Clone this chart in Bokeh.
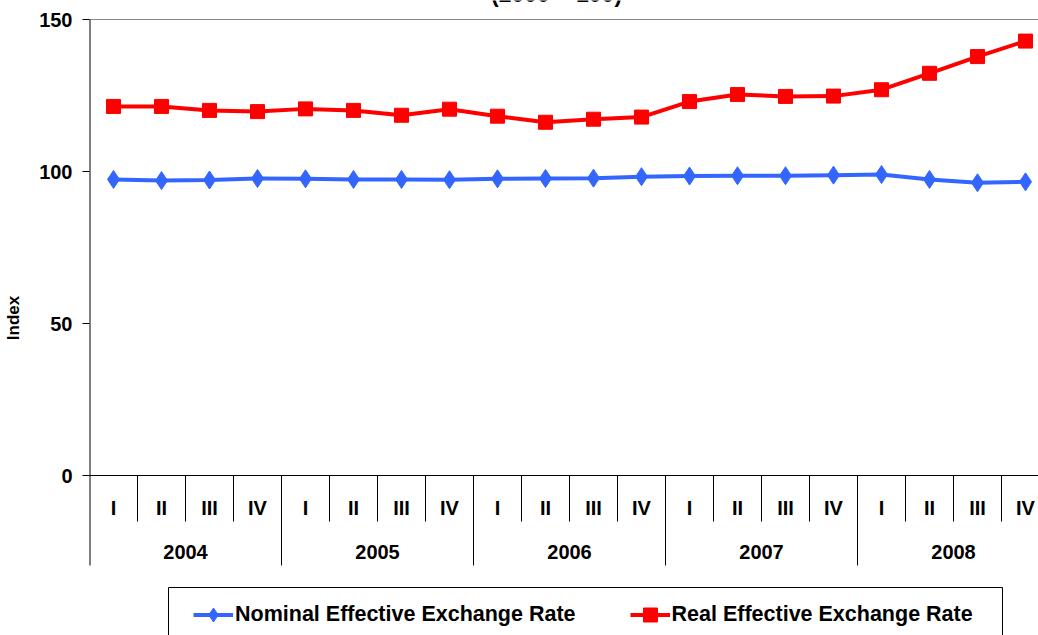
from bokeh.plotting import figure
from bokeh.models import Range1d, FixedTicker, Label, Legend, LegendItem, ColumnDataSource
from bokeh.core.properties import value
from bokeh.embed import file_html
from bokeh.resources import INLINE

# Quarterly effective exchange rate indices
years = ["2004", "2005", "2006", "2007", "2008"]
quarters = ["I", "II", "III", "IV"]
neer = [97.4, 97.0, 97.2, 97.7, 97.6, 97.4, 97.4, 97.3, 97.6, 97.7,
        97.8, 98.3, 98.5, 98.6, 98.6, 98.8, 99.0, 97.4, 96.3, 96.6]
reer = [121.4, 121.4, 120.1, 119.7, 120.6, 120.1, 118.5, 120.5, 118.2, 116.2,
        117.2, 117.9, 123.0, 125.3, 124.7, 124.8, 126.9, 132.3, 137.8, 142.9]
y_ticks = [0, 50, 100, 150]

FONT = "Liberation Sans"
BLUE = "#3366FF"
RED = "#FF0000"

n = len(years) * len(quarters)
x = list(range(n))

# pixel geometry: value axis spans 456 px for 0..150, the frame covers the
# whole canvas height so the category table, legend and title fit inside it
px_per_unit = 456 / 150
px_per_cat = 48
y_top = 150 + 19 / px_per_unit
y_bottom = -160 / px_per_unit
year_row_end = -90 / px_per_unit   # year separators end here
q_sep_end = -46 / px_per_unit      # quarter separators end here
q_label_y = -32 / px_per_unit
y_label_y = -76.5 / px_per_unit
x_end = -0.5 + 949 / px_per_cat

p = figure(width=1038, height=635, output_backend="svg", toolbar_location=None,
           x_range=Range1d(-0.5, x_end), y_range=Range1d(y_bottom, y_top),
           x_axis_location=None, min_border_left=89, min_border_right=0,
           min_border_top=0, min_border_bottom=0)
p.outline_line_color = None
p.xgrid.visible = False
p.ygrid.visible = False
p.background_fill_color = "white"
p.border_fill_color = "white"

ax = p.yaxis[0]
ax.ticker = FixedTicker(ticks=y_ticks)
ax.minor_tick_line_color = None
ax.major_tick_in = 0
ax.major_tick_out = 7
ax.major_tick_line_color = "black"
ax.axis_line_color = None
ax.major_label_standoff = 10
ax.major_label_text_font = FONT
ax.major_label_text_font_style = "bold"
ax.major_label_text_font_size = "20px"
ax.major_label_text_color = "black"
ax.axis_label = "Index"
ax.axis_label_text_font = FONT
ax.axis_label_text_font_style = "bold"
ax.axis_label_text_font_size = "17px"
ax.axis_label_standoff = 13
ax.axis_label_text_color = "black"

# plot-area top border and zero line
p.segment(x0=[-0.5], y0=[150], x1=[x_end], y1=[150], line_color="#888888", line_width=1)
p.segment(x0=[-0.5], y0=[0], x1=[x_end], y1=[0], line_color="black", line_width=1)

# value axis line, continuing down as the first table separator
p.segment(x0=[-0.5], y0=[150], x1=[-0.5], y1=[year_row_end], line_color="black", line_width=2)

# category table: separators and labels
sep_x = [i - 0.5 for i in range(1, n + 1)]
sep_bottom = [year_row_end if i % len(quarters) == 0 else q_sep_end for i in range(1, n + 1)]
p.segment(x0=sep_x, y0=[0] * len(sep_x), x1=sep_x, y1=sep_bottom,
          line_color="black", line_width=1)

q_src = ColumnDataSource(dict(x=x, y=[q_label_y] * n,
                              t=[quarters[i % len(quarters)] for i in range(n)]))
p.text(x="x", y="y", text="t", source=q_src, text_align="center", text_baseline="middle",
       text_font=value(FONT), text_font_style="bold", text_font_size="20px", text_color="black")

yr_x = [i * len(quarters) + (len(quarters) - 1) / 2 for i in range(len(years))]
y_src = ColumnDataSource(dict(x=yr_x, y=[y_label_y] * len(years), t=years))
p.text(x="x", y="y", text="t", source=y_src, text_align="center", text_baseline="middle",
       text_font=value(FONT), text_font_style="bold", text_font_size="20px", text_color="black")

# legend frame (runs off the bottom edge)
box_left = -0.5 + (168 - 89) / px_per_cat
box_right = -0.5 + (1002 - 89) / px_per_cat
box_top = (475 - 587) / px_per_unit
p.quad(left=[box_left], right=[box_right], top=[box_top], bottom=[y_bottom - 5],
       fill_color="white", line_color="black", line_width=1)

# series
b_line = p.line(x, neer, line_color=BLUE, line_width=4)
b_mark = p.scatter(x, neer, marker="diamond", size=18, fill_color=BLUE, line_color=BLUE)
r_line = p.line(x, reer, line_color=RED, line_width=4)
r_mark = p.scatter(x, reer, marker="square", size=14, fill_color=RED, line_color=RED)

# title, running off the top edge
p.add_layout(Label(x=9.23, y=150 + 26 / px_per_unit, text="(2000 = 100)",
                   text_align="center", text_baseline="alphabetic",
                   text_font=FONT, text_font_style="bold", text_font_size="23px",
                   text_color="black"))

legend = Legend(items=[
    LegendItem(label="Nominal Effective Exchange Rate", renderers=[b_line, b_mark]),
    LegendItem(label="Real Effective Exchange Rate", renderers=[r_line, r_mark]),
], orientation="horizontal", location=(104, 3))
legend.label_text_font = FONT
legend.label_text_font_style = "bold"
legend.label_text_font_size = "21.5px"
legend.label_text_color = "black"
legend.glyph_width = 40
legend.glyph_height = 35
legend.label_standoff = 2
legend.spacing = 54
legend.padding = 10
legend.margin = 0
legend.border_line_color = None
legend.background_fill_alpha = 0
p.add_layout(legend, "center")

open("out.html", "w").write(file_html(p, INLINE))
